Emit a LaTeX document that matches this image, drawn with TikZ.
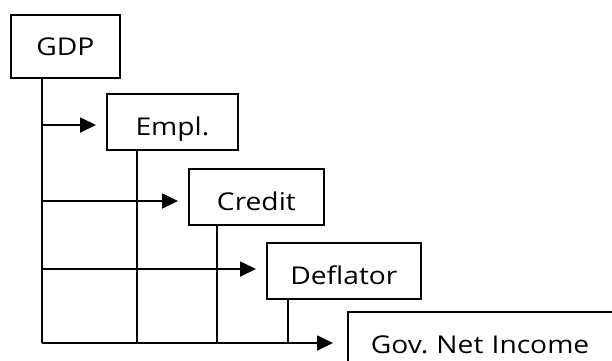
\documentclass[tikz,border=0pt]{standalone}
\usepackage{fontspec}
\setmainfont{Open Sans}[FakeStretch=1.15]
\usetikzlibrary{arrows.meta,calc}
\tikzset{
  box/.style={draw, line width=1.8pt, anchor=north west, inner sep=0pt,
    minimum height=56pt, text height=27pt, text depth=0pt,
    font=\fontsize{24.5}{29}\selectfont\frenchspacing},
  conn/.style={line width=1.8pt},
  arr/.style={conn, -{Triangle[length=16pt,width=15pt]}, shorten >=10pt}
}
\begin{document}
\begin{tikzpicture}[x=1pt,y=-1pt]
\useasboundingbox (0,0) rectangle (612,360);
\node[box, minimum width=109pt, minimum height=63pt, text depth=8pt] (gdp) at (10,14) {GDP};
\node[box, minimum width=131pt] (empl) at (106,93) {Empl.};
\node[box, minimum width=135pt] (credit) at (188,168) {Credit};
\node[box, minimum width=154pt] (defl) at (266,242) {Deflator};
\node[box, text width=250pt, align=left, inner xsep=23pt] (gov) at (347,311) {Gov. Net Income};
% trunk
\coordinate (top) at ($(gdp.south west)+(32,0)$);
\coordinate (bend) at (top |- 0,343);
\draw[conn] (top) -- (bend);
% arrows to boxes
\coordinate (a1) at (top |- 0,125);
\coordinate (a2) at (top |- 0,201);
\coordinate (a3) at (top |- 0,269);
\draw[arr] (a1) -- (empl.west |- a1);
\draw[arr] (a2) -- (credit.west |- a2);
\draw[arr] (a3) -- (defl.west |- a3);
\draw[arr, shorten >=14pt] (bend) -- (gov.west |- bend);
% drops from boxes
\draw[conn] ($(empl.south west)+(31,0)$) coordinate (eb) -- (eb |- bend);
\draw[conn] ($(credit.south west)+(29,0)$) coordinate (cb) -- (cb |- bend);
\draw[conn] ($(defl.south west)+(22,0)$) coordinate (db) -- (db |- bend);
\end{tikzpicture}
\end{document}
